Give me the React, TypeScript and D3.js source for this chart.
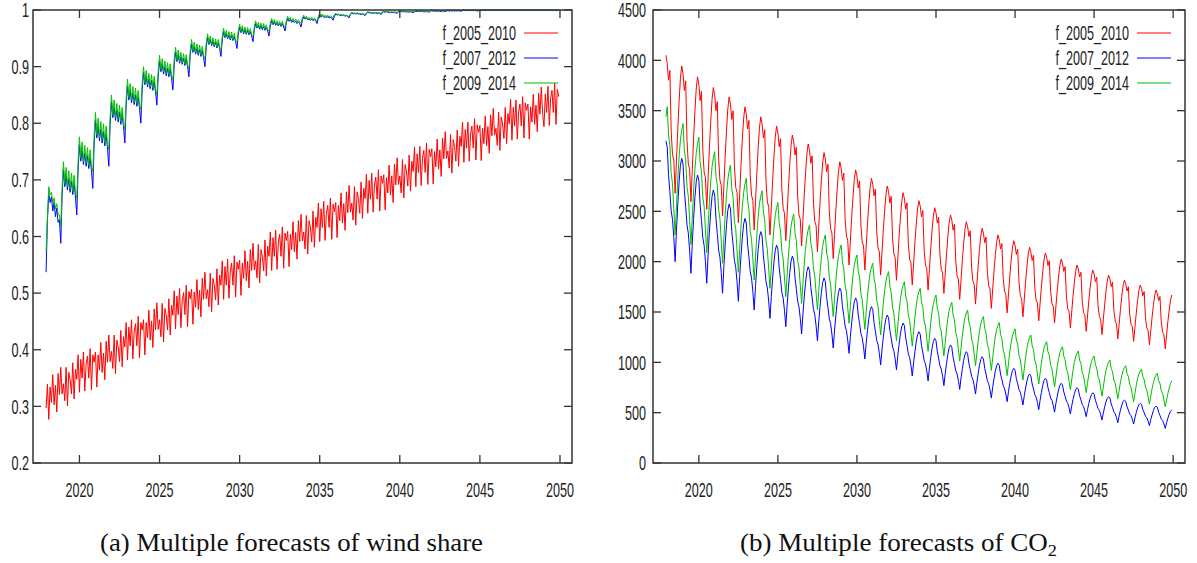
import React from "react";
import * as d3 from "d3";

// ---------- data (monthly values, first point = Dec 2017) ----------
const FIRST_MONTH = 2017 + 11 / 12;
const X_DOMAIN: [number, number] = [2017.1, 2050.75];
const yearTicks = [2020, 2025, 2030, 2035, 2040, 2045, 2050];
const windTicks = [0.2, 0.3, 0.4, 0.5, 0.6, 0.7, 0.8, 0.9, 1];
const co2Ticks = [0, 500, 1000, 1500, 2000, 2500, 3000, 3500, 4000, 4500];
const seriesNames = ["f_2005_2010", "f_2007_2012", "f_2009_2014"];

const windRed = [0.297,
  0.339, 0.277, 0.334, 0.307, 0.356, 0.303, 0.337, 0.29, 0.358, 0.321, 0.369, 0.322,
  0.34, 0.31, 0.369, 0.301, 0.36, 0.348, 0.322, 0.377, 0.313, 0.366, 0.348, 0.391,
  0.325, 0.383, 0.35, 0.396, 0.327, 0.375, 0.389, 0.35, 0.402, 0.329, 0.391, 0.378,
  0.396, 0.334, 0.391, 0.364, 0.413, 0.36, 0.394, 0.347, 0.415, 0.378, 0.426, 0.379,
  0.397, 0.367, 0.426, 0.358, 0.417, 0.405, 0.379, 0.434, 0.37, 0.423, 0.405, 0.448,
  0.382, 0.44, 0.407, 0.453, 0.384, 0.432, 0.446, 0.407, 0.459, 0.386, 0.448, 0.435,
  0.453, 0.391, 0.448, 0.421, 0.47, 0.417, 0.451, 0.404, 0.472, 0.435, 0.483, 0.436,
  0.453, 0.423, 0.482, 0.414, 0.473, 0.461, 0.435, 0.49, 0.426, 0.479, 0.461, 0.504,
  0.437, 0.495, 0.462, 0.508, 0.439, 0.487, 0.501, 0.462, 0.514, 0.441, 0.503, 0.49,
  0.507, 0.445, 0.502, 0.475, 0.524, 0.471, 0.505, 0.458, 0.526, 0.489, 0.537, 0.49,
  0.506, 0.476, 0.535, 0.467, 0.526, 0.514, 0.488, 0.543, 0.479, 0.532, 0.514, 0.557,
  0.489, 0.547, 0.514, 0.56, 0.491, 0.539, 0.553, 0.514, 0.566, 0.493, 0.555, 0.542,
  0.558, 0.496, 0.553, 0.526, 0.575, 0.522, 0.556, 0.509, 0.577, 0.54, 0.588, 0.541,
  0.557, 0.527, 0.586, 0.518, 0.577, 0.565, 0.539, 0.594, 0.53, 0.583, 0.565, 0.608,
  0.54, 0.598, 0.565, 0.611, 0.542, 0.59, 0.604, 0.565, 0.617, 0.544, 0.606, 0.593,
  0.609, 0.547, 0.604, 0.577, 0.626, 0.573, 0.607, 0.56, 0.628, 0.591, 0.639, 0.592,
  0.608, 0.578, 0.637, 0.569, 0.628, 0.616, 0.59, 0.645, 0.581, 0.634, 0.616, 0.659,
  0.591, 0.649, 0.616, 0.662, 0.593, 0.641, 0.655, 0.616, 0.668, 0.595, 0.657, 0.644,
  0.66, 0.598, 0.655, 0.628, 0.677, 0.624, 0.658, 0.611, 0.679, 0.642, 0.69, 0.643,
  0.659, 0.629, 0.688, 0.62, 0.679, 0.667, 0.641, 0.696, 0.632, 0.685, 0.667, 0.71,
  0.641, 0.699, 0.666, 0.712, 0.643, 0.691, 0.705, 0.666, 0.718, 0.645, 0.707, 0.694,
  0.709, 0.647, 0.704, 0.677, 0.726, 0.673, 0.707, 0.66, 0.728, 0.691, 0.739, 0.692,
  0.707, 0.677, 0.736, 0.668, 0.727, 0.715, 0.689, 0.744, 0.68, 0.733, 0.715, 0.758,
  0.688, 0.746, 0.713, 0.759, 0.69, 0.738, 0.752, 0.713, 0.765, 0.692, 0.754, 0.741,
  0.755, 0.693, 0.75, 0.723, 0.772, 0.719, 0.753, 0.706, 0.774, 0.737, 0.785, 0.738,
  0.751, 0.721, 0.78, 0.712, 0.771, 0.759, 0.733, 0.788, 0.724, 0.777, 0.759, 0.802,
  0.731, 0.789, 0.756, 0.802, 0.733, 0.781, 0.795, 0.756, 0.808, 0.735, 0.797, 0.784,
  0.796, 0.734, 0.791, 0.764, 0.813, 0.76, 0.794, 0.747, 0.815, 0.778, 0.826, 0.779,
  0.791, 0.761, 0.82, 0.752, 0.811, 0.799, 0.773, 0.828, 0.764, 0.817, 0.799, 0.842,
  0.77, 0.828, 0.795, 0.841, 0.772, 0.82, 0.834, 0.795, 0.847, 0.774, 0.836, 0.823,
  0.834, 0.772, 0.829, 0.802, 0.851, 0.798, 0.832, 0.785, 0.853, 0.816, 0.864, 0.817,
  0.794, 0.852, 0.819, 0.865, 0.796, 0.844, 0.858, 0.819, 0.871, 0.798, 0.86, 0.847,
];

const windBlue = [0.537,
  0.628, 0.676, 0.66, 0.67, 0.645, 0.66, 0.635, 0.65, 0.625, 0.63, 0.588, 0.672,
  0.718, 0.688, 0.708, 0.682, 0.702, 0.678, 0.698, 0.674, 0.694, 0.67, 0.638, 0.719,
  0.762, 0.733, 0.753, 0.727, 0.747, 0.724, 0.743, 0.72, 0.739, 0.716, 0.685, 0.763,
  0.805, 0.774, 0.795, 0.769, 0.789, 0.765, 0.785, 0.76, 0.781, 0.756, 0.724, 0.798,
  0.838, 0.81, 0.829, 0.805, 0.823, 0.802, 0.82, 0.798, 0.816, 0.794, 0.765, 0.831,
  0.866, 0.841, 0.858, 0.836, 0.853, 0.833, 0.85, 0.83, 0.846, 0.826, 0.8, 0.859,
  0.89, 0.868, 0.883, 0.864, 0.878, 0.861, 0.876, 0.858, 0.873, 0.855, 0.832, 0.883,
  0.91, 0.891, 0.904, 0.887, 0.9, 0.884, 0.897, 0.882, 0.895, 0.879, 0.859, 0.903,
  0.926, 0.909, 0.921, 0.906, 0.917, 0.904, 0.915, 0.902, 0.913, 0.9, 0.882, 0.92,
  0.94, 0.925, 0.935, 0.922, 0.932, 0.92, 0.93, 0.918, 0.928, 0.916, 0.9, 0.934,
  0.952, 0.939, 0.948, 0.937, 0.945, 0.935, 0.943, 0.933, 0.942, 0.932, 0.918, 0.947,
  0.962, 0.951, 0.958, 0.949, 0.956, 0.947, 0.955, 0.946, 0.953, 0.944, 0.932, 0.957,
  0.97, 0.96, 0.967, 0.958, 0.965, 0.957, 0.964, 0.956, 0.962, 0.954, 0.944, 0.965,
  0.976, 0.968, 0.973, 0.966, 0.972, 0.965, 0.971, 0.964, 0.969, 0.963, 0.954, 0.972,
  0.981, 0.974, 0.979, 0.973, 0.977, 0.972, 0.976, 0.971, 0.976, 0.97, 0.963, 0.977,
  0.985, 0.98, 0.983, 0.978, 0.981, 0.978, 0.98, 0.976, 0.979, 0.976, 0.97, 0.982,
  0.988, 0.984, 0.986, 0.983, 0.984, 0.982, 0.984, 0.981, 0.983, 0.981, 0.976, 0.986,
  0.991, 0.988, 0.99, 0.987, 0.988, 0.987, 0.988, 0.986, 0.987, 0.986, 0.982, 0.989,
  0.993, 0.991, 0.992, 0.99, 0.991, 0.99, 0.991, 0.989, 0.99, 0.989, 0.986, 0.992,
  0.995, 0.993, 0.994, 0.993, 0.994, 0.993, 0.993, 0.992, 0.993, 0.992, 0.99, 0.994,
  0.996, 0.995, 0.995, 0.994, 0.995, 0.994, 0.995, 0.994, 0.994, 0.994, 0.992, 0.996,
  0.997, 0.996, 0.997, 0.996, 0.996, 0.995, 0.996, 0.995, 0.996, 0.995, 0.994, 0.997,
  0.998, 0.997, 0.997, 0.997, 0.997, 0.996, 0.997, 0.996, 0.997, 0.996, 0.995, 0.997,
  0.998, 0.997, 0.998, 0.997, 0.998, 0.997, 0.997, 0.997, 0.997, 0.997, 0.996, 0.998,
  0.999, 0.998, 0.998, 0.998, 0.998, 0.998, 0.998, 0.997, 0.998, 0.998, 0.997, 0.998,
  0.999, 0.998, 0.999, 0.998, 0.999, 0.998, 0.999, 0.998, 0.999, 0.998, 0.998, 0.999,
  1, 0.999, 0.999, 0.999, 0.999, 0.999, 0.999, 0.999, 0.999, 0.999, 0.998, 0.999,
  1, 0.999, 1, 0.999, 1, 0.999, 1, 0.999, 1, 0.999, 0.999, 1,
  1, 0.999, 1, 0.999, 1, 0.999, 1, 0.999, 1, 0.999, 0.999, 1,
  1, 0.999, 1, 0.999, 1, 0.999, 1, 0.999, 1, 0.999, 0.999, 1,
  1, 0.999, 1, 0.999, 1, 0.999, 1, 0.999, 1, 0.999, 0.999, 1,
  1, 0.999, 1, 0.999, 1, 0.999, 1, 0.999, 1, 0.999, 0.999, 1,
];

const windGreen = [0.572,
  0.634, 0.688, 0.674, 0.678, 0.659, 0.668, 0.649, 0.658, 0.639, 0.638, 0.618, 0.686,
  0.732, 0.694, 0.722, 0.688, 0.716, 0.684, 0.712, 0.68, 0.708, 0.676, 0.668, 0.733,
  0.776, 0.739, 0.767, 0.733, 0.761, 0.73, 0.757, 0.726, 0.753, 0.722, 0.715, 0.777,
  0.819, 0.78, 0.809, 0.775, 0.803, 0.771, 0.799, 0.766, 0.795, 0.762, 0.754, 0.812,
  0.85, 0.815, 0.841, 0.81, 0.835, 0.807, 0.832, 0.803, 0.828, 0.799, 0.789, 0.843,
  0.878, 0.846, 0.87, 0.841, 0.865, 0.838, 0.862, 0.835, 0.858, 0.831, 0.824, 0.871,
  0.9, 0.872, 0.893, 0.868, 0.888, 0.865, 0.886, 0.862, 0.883, 0.859, 0.85, 0.893,
  0.92, 0.895, 0.914, 0.891, 0.91, 0.888, 0.907, 0.886, 0.905, 0.883, 0.877, 0.913,
  0.934, 0.912, 0.929, 0.909, 0.925, 0.907, 0.923, 0.905, 0.921, 0.903, 0.896, 0.928,
  0.948, 0.928, 0.943, 0.925, 0.94, 0.923, 0.938, 0.921, 0.936, 0.919, 0.914, 0.942,
  0.958, 0.941, 0.954, 0.939, 0.951, 0.937, 0.949, 0.935, 0.948, 0.934, 0.929, 0.953,
  0.968, 0.953, 0.964, 0.951, 0.962, 0.949, 0.961, 0.948, 0.959, 0.946, 0.943, 0.963,
  0.975, 0.962, 0.972, 0.96, 0.97, 0.959, 0.969, 0.958, 0.967, 0.956, 0.953, 0.97,
  0.981, 0.97, 0.978, 0.968, 0.977, 0.967, 0.976, 0.966, 0.974, 0.965, 0.963, 0.977,
  0.985, 0.976, 0.983, 0.975, 0.981, 0.974, 0.98, 0.973, 0.98, 0.972, 0.97, 0.981,
  0.989, 0.982, 0.987, 0.98, 0.985, 0.98, 0.984, 0.978, 0.983, 0.978, 0.977, 0.986,
  0.991, 0.985, 0.989, 0.984, 0.987, 0.983, 0.987, 0.982, 0.986, 0.982, 0.981, 0.989,
  0.994, 0.989, 0.993, 0.988, 0.991, 0.988, 0.991, 0.987, 0.99, 0.987, 0.987, 0.992,
  0.994, 0.992, 0.993, 0.991, 0.992, 0.991, 0.992, 0.99, 0.991, 0.99, 0.988, 0.993,
  0.996, 0.994, 0.995, 0.994, 0.995, 0.994, 0.994, 0.993, 0.994, 0.993, 0.992, 0.995,
  0.997, 0.996, 0.996, 0.995, 0.996, 0.995, 0.996, 0.995, 0.995, 0.995, 0.994, 0.997,
  0.998, 0.997, 0.998, 0.997, 0.997, 0.996, 0.997, 0.996, 0.997, 0.996, 0.996, 0.998,
  0.999, 0.998, 0.998, 0.998, 0.998, 0.997, 0.998, 0.997, 0.998, 0.997, 0.997, 0.998,
  0.999, 0.998, 0.999, 0.998, 0.999, 0.998, 0.998, 0.998, 0.998, 0.998, 0.998, 0.999,
  1, 0.999, 0.999, 0.999, 0.999, 0.999, 0.999, 0.998, 0.999, 0.999, 0.998, 0.999,
  1, 0.999, 1, 0.999, 1, 0.999, 1, 0.999, 1, 0.999, 0.999, 1,
  1, 1, 1, 1, 1, 1, 1, 1, 1, 1, 0.999, 1,
  1, 1, 1, 1, 1, 1, 1, 1, 1, 1, 1, 1,
  1, 1, 1, 1, 1, 1, 1, 1, 1, 1, 1, 1,
  1, 1, 1, 1, 1, 1, 1, 1, 1, 1, 1, 1,
  1, 1, 1, 1, 1, 1, 1, 1, 1, 1, 1, 1,
  1, 1, 1, 1, 1, 1, 1, 1, 1, 1, 1, 1,
];

const co2Red = [4050,
  3968, 3803, 3899, 3296, 3064, 3009, 2680, 2996, 3312, 3590, 3818, 3944,
  3863, 3701, 3796, 3203, 2973, 2920, 2596, 2906, 3217, 3490, 3713, 3837,
  3758, 3600, 3692, 3113, 2889, 2836, 2520, 2823, 3125, 3391, 3609, 3730,
  3653, 3500, 3590, 3028, 2811, 2760, 2454, 2750, 3046, 3306, 3519, 3637,
  3562, 3412, 3499, 2949, 2737, 2687, 2387, 2675, 2963, 3216, 3423, 3538,
  3465, 3318, 3403, 2865, 2657, 2609, 2315, 2596, 2877, 3124, 3327, 3439,
  3369, 3228, 3310, 2793, 2594, 2547, 2265, 2536, 2806, 3044, 3239, 3347,
  3279, 3142, 3222, 2721, 2527, 2481, 2208, 2471, 2733, 2964, 3153, 3258,
  3192, 3060, 3137, 2652, 2465, 2420, 2156, 2409, 2663, 2885, 3068, 3169,
  3105, 2977, 3051, 2581, 2399, 2357, 2100, 2346, 2592, 2808, 2985, 3083,
  3020, 2893, 2967, 2504, 2325, 2283, 2030, 2271, 2512, 2723, 2897, 2993,
  2931, 2808, 2880, 2429, 2254, 2213, 1967, 2203, 2439, 2647, 2817, 2911,
  2851, 2732, 2802, 2364, 2195, 2156, 1917, 2145, 2373, 2573, 2737, 2828,
  2770, 2655, 2722, 2299, 2136, 2098, 1867, 2088, 2310, 2504, 2664, 2752,
  2696, 2583, 2649, 2237, 2077, 2040, 1815, 2033, 2250, 2441, 2598, 2685,
  2630, 2520, 2584, 2181, 2025, 1988, 1768, 1978, 2187, 2371, 2522, 2606,
  2553, 2446, 2508, 2118, 1967, 1931, 1718, 1923, 2127, 2307, 2454, 2536,
  2485, 2383, 2442, 2068, 1923, 1889, 1685, 1880, 2075, 2246, 2386, 2464,
  2414, 2313, 2372, 2003, 1860, 1826, 1625, 1818, 2011, 2181, 2320, 2397,
  2348, 2250, 2307, 1947, 1808, 1775, 1579, 1767, 1955, 2120, 2256, 2331,
  2283, 2188, 2244, 1894, 1759, 1727, 1536, 1718, 1901, 2061, 2192, 2265,
  2219, 2126, 2180, 1840, 1708, 1678, 1492, 1671, 1850, 2008, 2136, 2208,
  2163, 2072, 2125, 1792, 1664, 1633, 1452, 1625, 1797, 1949, 2073, 2142,
  2098, 2011, 2062, 1741, 1617, 1588, 1413, 1581, 1750, 1898, 2019, 2086,
  2044, 1961, 2010, 1704, 1586, 1558, 1391, 1550, 1709, 1848, 1963, 2026,
  1985, 1903, 1951, 1650, 1534, 1506, 1342, 1498, 1655, 1792, 1905, 1967,
  1927, 1848, 1895, 1605, 1493, 1466, 1308, 1460, 1613, 1746, 1856, 1917,
  1878, 1801, 1846, 1564, 1455, 1429, 1275, 1423, 1571, 1701, 1808, 1867,
  1829, 1753, 1797, 1518, 1410, 1384, 1232, 1379, 1525, 1654, 1759, 1818,
  1781, 1708, 1751, 1482, 1379, 1354, 1208, 1348, 1488, 1611, 1712, 1768,
  1732, 1661, 1703, 1442, 1341, 1317, 1175, 1311, 1447, 1566, 1664, 1718,
  1683, 1613, 1654, 1397, 1298, 1275, 1135, 1269, 1403, 1520, 1617, 1670,
];

const co2Blue = [3200,
  3140, 2864, 2696, 2504, 2420, 2240, 2000, 2308, 2565, 2791, 2955, 3027,
  2970, 2707, 2547, 2364, 2284, 2113, 1884, 2177, 2421, 2636, 2793, 2861,
  2807, 2560, 2409, 2237, 2162, 2000, 1785, 2063, 2295, 2499, 2647, 2712,
  2661, 2425, 2281, 2117, 2045, 1891, 1686, 1952, 2174, 2369, 2511, 2573,
  2525, 2302, 2167, 2012, 1944, 1799, 1606, 1853, 2059, 2240, 2372, 2430,
  2384, 2175, 2048, 1902, 1838, 1702, 1520, 1753, 1948, 2119, 2244, 2298,
  2255, 2057, 1936, 1799, 1738, 1609, 1437, 1655, 1837, 1998, 2114, 2165,
  2124, 1938, 1824, 1695, 1638, 1516, 1354, 1564, 1740, 1894, 2006, 2055,
  2016, 1838, 1730, 1606, 1552, 1436, 1281, 1482, 1649, 1796, 1903, 1950,
  1913, 1744, 1641, 1524, 1472, 1362, 1215, 1402, 1558, 1695, 1794, 1838,
  1803, 1643, 1546, 1434, 1386, 1281, 1142, 1321, 1469, 1600, 1695, 1737,
  1705, 1556, 1465, 1361, 1316, 1219, 1089, 1254, 1392, 1513, 1601, 1640,
  1610, 1470, 1385, 1288, 1245, 1154, 1033, 1189, 1319, 1433, 1517, 1553,
  1524, 1391, 1309, 1217, 1176, 1089, 973, 1122, 1246, 1356, 1435, 1470,
  1443, 1317, 1241, 1154, 1116, 1034, 925, 1065, 1181, 1283, 1357, 1390,
  1364, 1243, 1169, 1085, 1048, 969, 864, 996, 1106, 1203, 1273, 1304,
  1280, 1167, 1099, 1020, 986, 913, 815, 942, 1048, 1141, 1208, 1238,
  1215, 1106, 1041, 965, 932, 862, 768, 889, 990, 1079, 1144, 1172,
  1150, 1049, 987, 916, 885, 819, 731, 844, 937, 1020, 1080, 1106,
  1085, 988, 929, 862, 832, 769, 685, 796, 889, 970, 1029, 1055,
  1035, 940, 883, 817, 788, 727, 645, 749, 835, 911, 966, 990,
  971, 883, 830, 769, 742, 685, 609, 708, 791, 864, 917, 940,
  922, 838, 787, 729, 703, 649, 576, 668, 745, 813, 862, 884,
  866, 785, 735, 679, 654, 601, 530, 623, 701, 769, 819, 841,
  824, 747, 700, 646, 623, 572, 505, 591, 662, 725, 771, 791,
  776, 706, 663, 615, 593, 548, 487, 565, 631, 688, 730, 748,
  734, 667, 627, 581, 561, 518, 460, 531, 591, 643, 681, 698,
  684, 622, 584, 541, 522, 481, 427, 497, 555, 606, 643, 659,
  646, 586, 550, 509, 491, 452, 400, 468, 524, 574, 610, 626,
  614, 559, 526, 487, 471, 435, 387, 449, 500, 546, 579, 593,
  582, 531, 500, 464, 449, 415, 371, 430, 478, 521, 552, 566,
  555, 504, 473, 437, 422, 388, 344, 399, 445, 485, 514, 527,
];

const co2Green = [3440,
  3540, 3259, 3157, 2877, 2775, 2520, 2265, 2542, 2819, 3040, 3206, 3306,
  3372, 3108, 3011, 2747, 2651, 2410, 2170, 2437, 2703, 2916, 3076, 3172,
  3236, 2984, 2892, 2640, 2548, 2319, 2090, 2341, 2591, 2791, 2942, 3032,
  3092, 2848, 2760, 2516, 2427, 2206, 1984, 2228, 2472, 2667, 2814, 2901,
  2960, 2725, 2640, 2406, 2320, 2107, 1894, 2128, 2361, 2548, 2688, 2772,
  2828, 2606, 2525, 2303, 2222, 2020, 1818, 2040, 2262, 2439, 2572, 2652,
  2705, 2492, 2414, 2201, 2123, 1929, 1735, 1948, 2162, 2332, 2460, 2537,
  2588, 2382, 2307, 2101, 2026, 1839, 1652, 1858, 2063, 2227, 2351, 2425,
  2474, 2279, 2208, 2012, 1941, 1764, 1586, 1781, 1975, 2131, 2247, 2317,
  2364, 2178, 2111, 1925, 1858, 1689, 1520, 1706, 1893, 2042, 2153, 2220,
  2265, 2087, 2022, 1844, 1779, 1617, 1455, 1633, 1810, 1952, 2059, 2122,
  2165, 1994, 1932, 1761, 1699, 1543, 1388, 1558, 1727, 1863, 1964, 2025,
  2066, 1904, 1845, 1682, 1623, 1476, 1328, 1492, 1656, 1787, 1886, 1945,
  1984, 1827, 1770, 1614, 1557, 1414, 1272, 1429, 1587, 1712, 1807, 1863,
  1901, 1750, 1695, 1544, 1489, 1352, 1215, 1361, 1508, 1625, 1712, 1765,
  1800, 1659, 1608, 1467, 1416, 1288, 1160, 1304, 1448, 1563, 1649, 1701,
  1735, 1597, 1547, 1410, 1360, 1235, 1110, 1250, 1390, 1501, 1585, 1635,
  1669, 1536, 1487, 1354, 1305, 1184, 1063, 1196, 1330, 1436, 1516, 1564,
  1596, 1468, 1422, 1294, 1247, 1131, 1015, 1141, 1268, 1369, 1444, 1490,
  1520, 1398, 1353, 1231, 1187, 1076, 965, 1088, 1210, 1308, 1382, 1426,
  1455, 1337, 1294, 1177, 1134, 1027, 920, 1039, 1158, 1253, 1324, 1367,
  1395, 1279, 1237, 1121, 1079, 973, 868, 984, 1101, 1194, 1263, 1305,
  1333, 1221, 1180, 1068, 1028, 926, 824, 936, 1048, 1138, 1205, 1245,
  1272, 1165, 1126, 1019, 980, 882, 785, 890, 995, 1079, 1142, 1180,
  1205, 1106, 1070, 971, 935, 845, 755, 855, 955, 1035, 1095, 1131,
  1155, 1061, 1027, 933, 899, 813, 728, 824, 921, 998, 1055, 1090,
  1113, 1022, 989, 898, 865, 783, 700, 791, 882, 954, 1009, 1041,
  1063, 975, 944, 856, 824, 745, 665, 755, 844, 916, 969, 1002,
  1023, 938, 907, 823, 792, 715, 638, 720, 803, 868, 918, 947,
  967, 888, 860, 781, 753, 681, 610, 691, 772, 836, 885, 914,
  933, 856, 829, 752, 724, 655, 585, 662, 738, 799, 845, 873,
  891, 818, 791, 718, 692, 625, 559, 625, 690, 745, 790, 817,
];

// ---------- styles ----------
const COLORS = ["#ff0000", "#0000ff", "#00c000"];
const AXIS_COLOR = "#333333";
const TICK_FONT = "'Liberation Sans', Arial, sans-serif";
const TICK_SIZE = 20;
const SQUEEZE = 0.63;
const CAPTION_FONT = "'Liberation Serif', 'Times New Roman', serif";

type PanelProps = {
  left: number; top: number; right: number; bottom: number;
  yDomain: [number, number]; yTicks: number[]; yFmt: (v: number) => string;
  data: number[][]; labelGap: number;
};

function SqText(props: { x: number; y: number; anchor: "start" | "middle" | "end"; children: React.ReactNode; dy?: string }) {
  return (
    <text
      transform={`translate(${props.x},${props.y}) scale(${SQUEEZE},1)`}
      textAnchor={props.anchor}
      dy={props.dy}
      fontFamily={TICK_FONT}
      fontSize={TICK_SIZE}
      fill="#222"
    >
      {props.children}
    </text>
  );
}

function Panel(p: PanelProps) {
  const x = d3.scaleLinear().domain(X_DOMAIN).range([p.left, p.right]);
  const y = d3.scaleLinear().domain(p.yDomain).range([p.bottom, p.top]);
  const line = d3
    .line<number>()
    .x((_, i) => x(FIRST_MONTH + i / 12))
    .y((d) => y(d));
  const tl = 8;
  return (
    <g>
      {p.data.map((s, k) => (
        <path key={k} d={line(s) || ""} fill="none" stroke={COLORS[k]} strokeWidth={1} strokeLinejoin="round" />
      ))}
      <rect x={p.left} y={p.top} width={p.right - p.left} height={p.bottom - p.top} fill="none" stroke={AXIS_COLOR} strokeWidth={1.5} />
      {yearTicks.map((t) => (
        <g key={t}>
          <line x1={x(t)} x2={x(t)} y1={p.bottom} y2={p.bottom - tl} stroke={AXIS_COLOR} strokeWidth={1.3} />
          <line x1={x(t)} x2={x(t)} y1={p.top} y2={p.top + tl} stroke={AXIS_COLOR} strokeWidth={1.3} />
          <SqText x={x(t)} y={p.bottom + 34} anchor="middle">{String(t)}</SqText>
        </g>
      ))}
      {p.yTicks.map((t) => (
        <g key={t}>
          <line x1={p.left} x2={p.left + tl} y1={y(t)} y2={y(t)} stroke={AXIS_COLOR} strokeWidth={1.3} />
          <line x1={p.right} x2={p.right - tl} y1={y(t)} y2={y(t)} stroke={AXIS_COLOR} strokeWidth={1.3} />
          <SqText x={p.left - p.labelGap} y={y(t)} anchor="end" dy="0.36em">{p.yFmt(t)}</SqText>
        </g>
      ))}
      {seriesNames.map((n, k) => {
        const ly = p.top + 23 + k * 25;
        return (
          <g key={n}>
            <SqText x={p.right - 56} y={ly} anchor="end" dy="0.36em">{n}</SqText>
            <line x1={p.right - 48} x2={p.right - 14} y1={ly} y2={ly} stroke={COLORS[k]} strokeWidth={1.2} />
          </g>
        );
      })}
    </g>
  );
}

export default function App() {
  return (
    <svg
      width={1197}
      height={563}
      style={{ position: "absolute", left: 0, top: 0, background: "#fff" }}
    >
      <rect x={0} y={0} width={1197} height={563} fill="#fff" />
      <Panel
        left={33} top={10} right={572} bottom={463}
        yDomain={[0.2, 1]} yTicks={windTicks} yFmt={(v) => d3.format("~g")(v)}
        data={[windRed, windBlue, windGreen]} labelGap={4}
      />
      <Panel
        left={653} top={10} right={1185} bottom={463}
        yDomain={[0, 4500]} yTicks={co2Ticks} yFmt={(v) => String(v)}
        data={[co2Red, co2Blue, co2Green]} labelGap={7}
      />
      <text x={100} y={551} fontFamily={CAPTION_FONT} fontSize={25} fill="#111" textLength={383} lengthAdjust="spacingAndGlyphs">
        (a) Multiple forecasts of wind share
      </text>
      <text x={740} y={551} fontFamily={CAPTION_FONT} fontSize={25} fill="#111" textLength={317} lengthAdjust="spacingAndGlyphs">
        (b) Multiple forecasts of CO
        <tspan dy={5} fontSize={17}>2</tspan>
      </text>
    </svg>
  );
}
